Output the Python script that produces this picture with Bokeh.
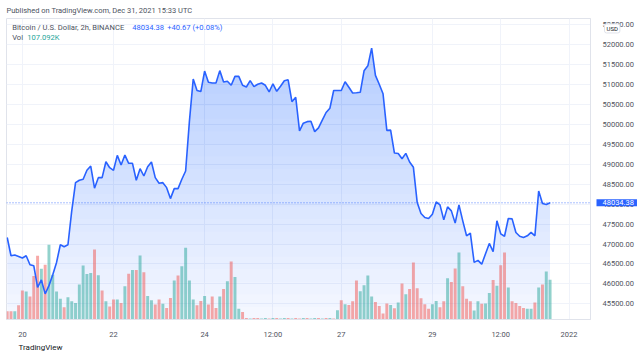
import numpy as np
import pandas as pd
from bokeh.plotting import figure
from bokeh.models import (Range1d, FixedTicker, PrintfTickFormatter, Span, Label,
                          ColumnDataSource)
from bokeh.embed import file_html
from bokeh.resources import INLINE

# ---------------- data ----------------
start = "2021-12-19 16:00"
times = pd.date_range(start, periods=144, freq="2h")

close = [
    47165, 46707, 46725, 46690, 46650, 46707, 46482, 46457, 45915, 46100,
    45750, 45957, 46232, 46540, 46982, 46932, 46982, 47832, 48540, 48600,
    48625, 48850, 48957, 48400, 48665, 48665, 49065, 48915, 48850, 49225,
    48982, 49232, 49025, 49025, 48600, 48890, 48707, 48940, 49057, 48665,
    48525, 48540, 48415, 48140, 48390, 48390, 48625, 48832, 50082, 51140,
    50850, 50825, 51340, 51057, 51040, 51040, 51350, 51065, 51082, 50982,
    51207, 51207, 50982, 50940, 51100, 50950, 51007, 51040, 50982, 50815,
    51020, 50832, 50957, 51095, 51120, 50570, 50682, 49840, 50032, 50070,
    50082, 49820, 49915, 50107, 50300, 50407, 50852, 50852, 50852, 51072,
    50932, 50790, 50795, 50807, 51345, 51470, 51915, 51232, 51007, 50770,
    49852, 49857, 49282, 49270, 49140, 49275, 49057, 48925, 48040, 47765,
    47665, 47640, 47750, 48057, 47982, 47607, 47932, 47832, 47525, 47982,
    47582, 47207, 47275, 46540, 46590, 46495, 46757, 47015, 46807, 47582,
    47257, 47195, 47640, 47632, 47290, 47195, 47165, 47207, 47295, 47207,
    48332, 48015, 47993.71, 48034.38,
]

volume_k = [
    22, 22, 22, 38, 78, 75, 62, 117, 171, 136,
    147, 201, 120, 75, 56, 33, 60, 49, 44, 94,
    145, 122, 125, 188, 119, 78, 49, 35, 54, 54,
    44, 89, 123, 133, 133, 172, 127, 63, 52, 40,
    54, 42, 31, 58, 105, 118, 143, 193, 105, 54,
    38, 50, 63, 40, 62, 31, 62, 82, 103, 156,
    114, 29, 20, 4, 3, 4, 4, 3, 4, 3,
    4, 4, 3, 4, 4, 3, 4, 3, 4, 4,
    3, 4, 4, 3, 4, 4, 3, 25, 52, 41,
    39, 49, 105, 76, 92, 118, 62, 47, 36, 16,
    43, 39, 30, 46, 97, 68, 82, 153, 84, 57,
    41, 29, 41, 50, 33, 49, 111, 101, 137, 180,
    89, 56, 49, 24, 49, 42, 43, 71, 106, 91,
    146, 180, 86, 49, 44, 36, 31, 29, 29, 46,
    86, 94, 129, 107.092,
]

direction = list(
    "dduddudddu" "duuuuduuuu" "uuudududdu" "dudududuud" "dudduduuuu"
    "ddudddudud" "uuddudduud" "uduududdud" "uududududu" "ddduuuuddd"
    "dudududddd" "dduudduddu" "ddduuduudu" "ddudddduud" "uduu"
)

x_tick_times = ["2021-12-20", "2021-12-22", "2021-12-24", "2021-12-25 12:00",
                "2021-12-27", "2021-12-29", "2021-12-30 12:00", "2022-01-01"]
x_tick_labels = ["20", "22", "24", "12:00", "27", "29", "12:00", "2022"]
price_ticks = list(range(45500, 53000, 500))

last_price = 48034.38
change_text = "+40.67 (+0.08%)"
last_vol_text = "107.092K"

# ---------------- styling constants ----------------
BLUE = "#2962ff"
UP = "#26a69a"
DOWN = "#ef5350"
GRID = "#f0f3fa"
BORDER = "#e0e3eb"
TXT = "#50535e"
FONT = "Roboto"
HOUR = 3600 * 1000

W, H = 640, 358
FL, FT, FR, FB = 6, 17, 590, 319          # frame edges in canvas pixels


def ms(t):
    return pd.Timestamp(t).value / 1e6


t0 = ms(start)
x_lo, x_hi = t0 - 0.37 * HOUR, t0 + 307.3 * HOUR
y_lo, y_hi = 45107.5, 52657.5


def xd(px):   # canvas px -> data x
    return x_lo + (px - FL) * (x_hi - x_lo) / (FR - FL)


def yd(py):   # canvas px -> data y
    return y_lo + (FB - py) * (y_hi - y_lo) / (FB - FT)


p = figure(width=W, height=H, x_axis_type="datetime", x_range=Range1d(x_lo, x_hi),
           y_range=Range1d(y_lo, y_hi), y_axis_location="right",
           output_backend="svg", toolbar_location=None,
           min_border_left=FL, min_border_top=FT, min_border_right=W - FR,
           min_border_bottom=H - FB)
p.extra_y_ranges = {"vol": Range1d(0, 808.6)}
p.outline_line_color = BORDER
p.background_fill_color = "white"
p.border_fill_color = "white"

source = ColumnDataSource(dict(
    t=times, close=close, vol=volume_k,
    color=[UP if d == "u" else DOWN for d in direction],
))

# gradient-like area fill under the line
close_arr = np.array(close, dtype=float)
p.varea(x=times, y1=y_lo, y2=close_arr, fill_color=BLUE, fill_alpha=0.05)
for lvl in np.linspace(y_lo, y_hi, 25)[1:]:
    p.varea(x=times, y1=lvl, y2=np.maximum(close_arr, lvl),
            fill_color=BLUE, fill_alpha=0.011)

# volume
p.vbar(x="t", top="vol", bottom=0, width=1.55 * HOUR, y_range_name="vol",
       fill_color="color", fill_alpha=0.5, line_color=None, source=source)

# price line
p.line("t", "close", source=source, line_color=BLUE, line_width=1.6)

p.add_layout(Span(location=last_price, dimension="width", line_color=BLUE,
                  line_dash="1 2", line_width=1, line_alpha=0.8))

# axes
xt = FixedTicker(ticks=[ms(t) for t in x_tick_times])
p.xaxis.ticker = xt
p.xaxis.major_label_overrides = {ms(t): lab for t, lab in zip(x_tick_times, x_tick_labels)}
p.xgrid.ticker = xt
yt = FixedTicker(ticks=price_ticks)
p.yaxis.ticker = yt
p.ygrid.ticker = yt
p.yaxis.formatter = PrintfTickFormatter(format="%.2f")
for ax in (p.xaxis[0], p.yaxis[0]):
    ax.axis_line_color = BORDER
    ax.major_tick_line_color = None
    ax.minor_tick_line_color = None
    ax.major_label_text_color = TXT
    ax.major_label_text_font = FONT
    ax.major_label_text_font_size = "7.5px"
p.xaxis.major_label_standoff = 4
p.yaxis.major_label_standoff = 6
p.xgrid.grid_line_color = GRID
p.ygrid.grid_line_color = GRID


def make_label(px, py, text, color=TXT, size="7.5px", y=None, **kw):
    return Label(x=xd(px), y=yd(py) if y is None else y, text=text,
                 text_color=color, text_font=FONT, text_font_size=size,
                 text_baseline="middle", **kw)


# legend texts inside the chart
p.add_layout(make_label(11.7, 26, "Bitcoin / U.S. Dollar, 2h, BINANCE", color="#4c525e", size="7.6px"))
p.add_layout(make_label(131.7, 26, f"{last_price:.2f}", color=BLUE, size="7.6px"))
p.add_layout(make_label(166.7, 26, change_text, color=BLUE, size="7.6px"))
p.add_layout(make_label(11.7, 36.5, "Vol", color="#4c525e", size="7.6px"))
p.add_layout(make_label(26.7, 36.5, last_vol_text, color=UP, size="7.6px"))

# texts outside the frame live in side panels (not clipped)
p.add_layout(make_label(6, 9, "Published on TradingView.com, Dec 31, 2021 15:33 UTC",
                        color="#4c525e"), "above")

tag = make_label(596, 0, f"{last_price:.2f}", color="white", y=last_price,
                 background_fill_color=BLUE)
try:
    tag.padding = dict(left=6, right=3, top=1, bottom=1)
except Exception:
    tag.padding = 2
p.add_layout(tag, "below")

p.add_layout(make_label(18, 347, "TradingView", color="#131722", size="8px"), "below")

usd = make_label(604, 27, "USD", color="#131722", size="6px",
                 background_fill_color="white", border_line_color=BORDER,
                 border_radius=2)
try:
    usd.padding = dict(left=2, right=2, top=1, bottom=1)
except Exception:
    usd.padding = 1
p.add_layout(usd, "above")

open("out.html", "w").write(file_html(p, INLINE))
